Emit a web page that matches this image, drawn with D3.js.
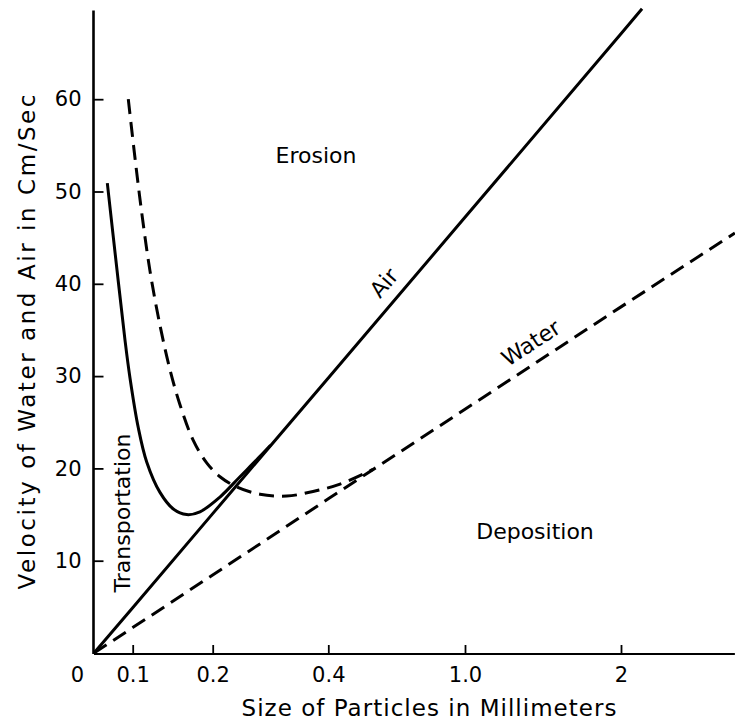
<!DOCTYPE html>
<html><head><meta charset="utf-8">
<script src="https://cdn.jsdelivr.net/npm/d3@7/dist/d3.min.js"></script>
<style>body{margin:0;background:#fff}svg{display:block}</style></head>
<body><svg id="chart" width="735" height="725"></svg>
<script>
// ---- data (particle size in mm, velocity in cm/sec) ----
const xTickValues = [0, 0.1, 0.2, 0.4, 1.0, 2];
const xTickLabels = ["0", "0.1", "0.2", "0.4", "1.0", "2"];
const yTickValues = [10, 20, 30, 40, 50, 60];
const yTickLabels = ["10", "20", "30", "40", "50", "60"];

const airSize     = [0, 0.1, 0.2, 0.4, 1.0, 2, 2.135];
const airVelocity = [0, 4.9, 15.1, 29.8, 47.2, 67.1, 69.8];

const airErosionSize     = [0.0344, 0.0594, 0.0801, 0.093, 0.107, 0.1175, 0.1341, 0.1508, 0.1675, 0.1841, 0.2126, 0.2472, 0.2818, 0.30];
const airErosionVelocity = [50.9, 41.5, 33.9, 29.8, 24.4, 20.7, 17.4, 15.6, 15.0, 15.3, 16.9, 19.1, 21.3, 22.5];

const waterSize     = [0, 0.1, 0.2, 0.4, 1.0, 2, 2.73];
const waterVelocity = [0, 2.75, 8.45, 16.7, 26.4, 37.5, 45.5];

const waterErosionSize     = [0.0886, 0.1029, 0.1116, 0.1216, 0.1341, 0.1466, 0.1591, 0.1754, 0.1925, 0.2126, 0.2415, 0.2818, 0.328, 0.3735, 0.4514, 0.5962];
const waterErosionVelocity = [60.0, 53.6, 47.5, 41.4, 35.5, 30.7, 26.9, 23.1, 20.6, 19.1, 18.0, 17.2, 17.0, 17.5, 18.3, 19.9];

const regionLabels = ["Erosion", "Deposition", "Transportation"];
const lineLabels = ["Air", "Water"];
const xTitle = "Size of Particles in Millimeters";
const yTitle = "Velocity of Water and Air in Cm/Sec";

// ---- chart ----
const FONT = "'DejaVu Sans', sans-serif";
const svg = d3.select("#chart");

// non-uniform size axis of the original figure (piecewise linear)
const x = d3.scaleLinear()
  .domain(xTickValues)
  .range([94, 132.7, 212.7, 328.3, 465, 621]);
const y = d3.scaleLinear().domain([0, 70]).range([653, 6.9]);

const zip = (a, b) => a.map((d, i) => [d, b[i]]);

// axes
const xAxis = d3.axisBottom(x)
  .tickValues(xTickValues)
  .tickFormat((d, i) => xTickLabels[i])
  .tickSizeInner(-9).tickSizeOuter(0).tickPadding(13);
const gx = svg.append("g").attr("transform", "translate(0,654)").call(xAxis);
gx.select(".domain").remove();
gx.selectAll(".tick line").attr("stroke", "#000").attr("stroke-width", 1.8)
  .filter(d => d === 0).remove();
gx.selectAll(".tick text").attr("font-family", FONT).attr("font-size", 21).attr("fill", "#000")
  .filter(d => d === 0).attr("x", -17);
svg.append("line")
  .attr("x1", x(0)).attr("x2", x(2.73)).attr("y1", 654).attr("y2", 654)
  .attr("stroke", "#000").attr("stroke-width", 1.8);

const yAxis = d3.axisLeft(y)
  .tickValues(yTickValues)
  .tickFormat((d, i) => yTickLabels[i])
  .tickSizeInner(-10).tickSizeOuter(0).tickPadding(12);
const gy = svg.append("g").attr("transform", "translate(93.5,0)").call(yAxis);
gy.select(".domain").remove();
gy.selectAll(".tick line").attr("stroke", "#000").attr("stroke-width", 1.8);
gy.selectAll(".tick text").attr("font-family", FONT).attr("font-size", 21).attr("fill", "#000");
svg.append("line")
  .attr("x1", 93.5).attr("x2", 93.5).attr("y1", y(0) + 1).attr("y2", y(69.6))
  .attr("stroke", "#000").attr("stroke-width", 2.6);

// lines
const straight = d3.line().x(d => x(d[0])).y(d => y(d[1]));
const smooth = d3.line().x(d => x(d[0])).y(d => y(d[1])).curve(d3.curveCatmullRom.alpha(0.5));

svg.append("path").attr("d", straight(zip(airSize, airVelocity)))
  .attr("fill", "none").attr("stroke", "#000").attr("stroke-width", 3);
svg.append("path").attr("d", smooth(zip(airErosionSize, airErosionVelocity)))
  .attr("fill", "none").attr("stroke", "#000").attr("stroke-width", 3);
svg.append("path").attr("d", straight(zip(waterSize, waterVelocity)))
  .attr("fill", "none").attr("stroke", "#000").attr("stroke-width", 3)
  .attr("stroke-dasharray", "15,8");
svg.append("path").attr("d", smooth(zip(waterErosionSize, waterErosionVelocity)))
  .attr("fill", "none").attr("stroke", "#000").attr("stroke-width", 3)
  .attr("stroke-dasharray", "15,8");

// labels
function label(txt, cx, cy, rot, size) {
  svg.append("text").text(txt)
    .attr("transform", `translate(${cx},${cy}) rotate(${rot})`)
    .attr("text-anchor", "middle").attr("dominant-baseline", "central")
    .attr("font-family", FONT).attr("font-size", size).attr("fill", "#000");
}
label(regionLabels[0], 316, 155, 0, 22);
label(regionLabels[1], 535, 531, 0, 22);
label(regionLabels[2], 122, 513, -90, 22);
label(lineLabels[0], 384, 283, -49.6, 22);
label(lineLabels[1], 531, 343, -33.3, 22);

svg.append("text").text(xTitle)
  .attr("x", 429).attr("y", 708).attr("text-anchor", "middle").attr("dominant-baseline", "central")
  .attr("font-family", FONT).attr("font-size", 23).attr("fill", "#000")
  .attr("textLength", 375).attr("lengthAdjust", "spacing");
svg.append("text").text(yTitle)
  .attr("transform", "translate(27,342) rotate(-90)")
  .attr("text-anchor", "middle").attr("dominant-baseline", "central")
  .attr("font-family", FONT).attr("font-size", 23).attr("fill", "#000")
  .attr("textLength", 495).attr("lengthAdjust", "spacing");
</script>
</body></html>
